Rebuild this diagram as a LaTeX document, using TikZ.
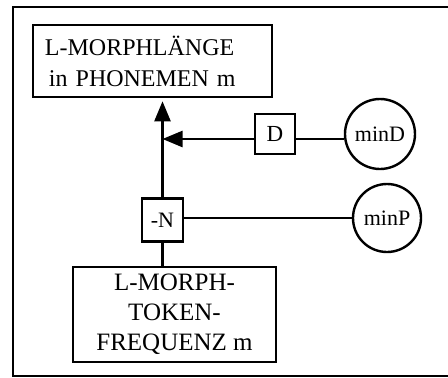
\documentclass[tikz,border=0pt]{standalone}
\usepackage{fontspec}
\setmainfont{Liberation Serif}
\usetikzlibrary{arrows.meta}
\tikzset{
  box/.style={draw, line width=2.6pt, rectangle, inner sep=0pt},
  circ/.style={draw, line width=2.4pt, circle, inner sep=0pt},
  conn/.style={line width=2.4pt},
  arr/.style={line width=2.4pt, -{Triangle[length=20pt,width=16pt]}},
}
\begin{document}
\begin{tikzpicture}[x=1pt, y=-1pt]
\useasboundingbox (0,0) rectangle (448,378);
\draw[line width=2.6pt] (13,7) rectangle (449,376);
% nodes
\node[box, minimum height=72pt, text width=215pt, inner xsep=12pt, align=left,
      font=\fontsize{24}{31}\selectfont] (top) at (152.5,61)
      {L-MORPHLÄNGE\\\hspace{4pt}in PHONEMEN m};
\node[box, minimum width=40pt, minimum height=40pt, font=\fontsize{23}{26}\selectfont] (D) at (275,134) {D};
\node[circ, minimum size=70pt, font=\fontsize{22}{25}\selectfont] (minD) at (380,134) {minD};
\node[box, minimum width=41pt, minimum height=43pt, font=\fontsize{22}{25}\selectfont] (nN) at (162.5,220) {-N};
\node[circ, minimum size=68pt, font=\fontsize{22}{25}\selectfont] (minP) at (387,218) {minP};
\node[box, minimum width=203pt, minimum height=95pt, align=center,
      font=\fontsize{25}{30}\selectfont] (bot) at (174.5,314.5)
      {L-MORPH-\\TOKEN-\\FREQUENZ m};
\coordinate (dl) at (0,139);
% connectors
\draw[arr, shorten >=3pt] (nN.north) -- (nN.north |- top.south);
\draw[conn] (nN.south) -- (nN.south |- bot.north);
\draw[arr] (D.west |- dl) -- (nN.north |- dl);
\draw[conn] (D.east |- dl) -- (minD.west |- dl);
\draw[conn] (nN.east |- minP.west) -- (minP.west);
\end{tikzpicture}
\end{document}
